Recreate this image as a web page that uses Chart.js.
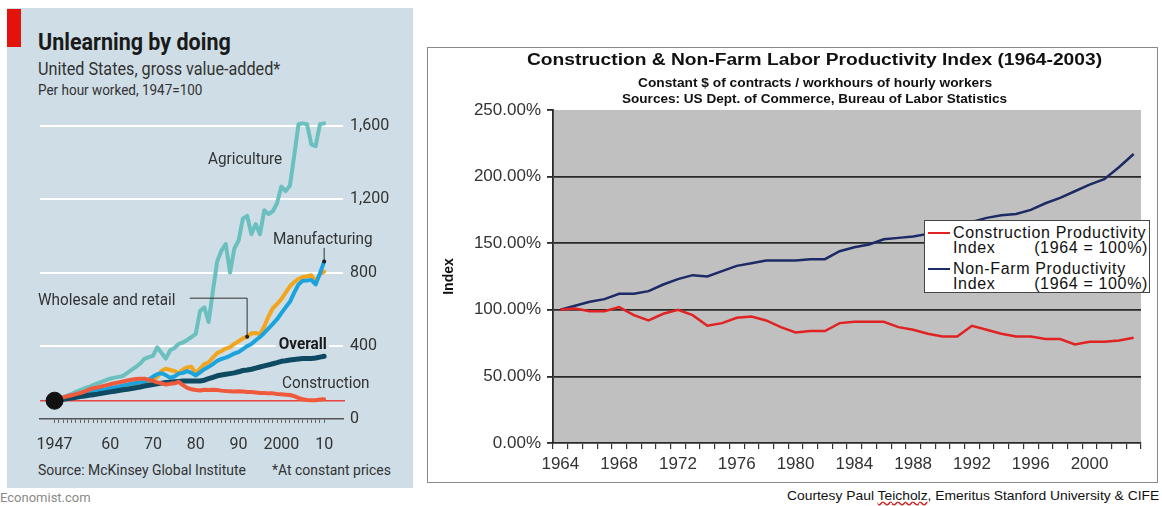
<!DOCTYPE html>
<html><head><meta charset="utf-8">
<script src="https://cdn.jsdelivr.net/npm/chart.js@4.4.1/dist/chart.umd.min.js"></script>
<style>
html,body{margin:0;padding:0;background:#fff;}
body{width:1162px;height:506px;position:relative;overflow:hidden;}
.abs{position:absolute;white-space:nowrap;line-height:1;}
.eco{font-family:Roboto,'Open Sans',sans-serif;color:#2b2b2b;}
.ar{font-family:'Liberation Sans',Arial,sans-serif;color:#111;}
#lpanel{position:absolute;left:7px;top:8px;width:406px;height:480px;background:#cedde6;}
#redbar{position:absolute;left:7px;top:9px;width:14px;height:38px;background:#e3120b;}
#lchart{position:absolute;left:8px;top:100px;}
#rbox{position:absolute;left:427px;top:47px;width:731px;height:436px;border:1px solid #8a8a8a;background:#fff;box-sizing:border-box;}
#rchart{position:absolute;left:428px;top:48px;}
#legend{position:absolute;left:924px;top:220px;width:226px;height:73px;border:1px solid #444;background:#fff;box-sizing:border-box;font-family:'Liberation Sans',Arial,sans-serif;font-size:16px;color:#111;}
.lg-row{position:absolute;left:28px;width:195px;height:15px;line-height:15px;display:flex;justify-content:space-between;letter-spacing:0.65px;}
.lg-mark{position:absolute;left:3px;width:22px;height:2px;}
.cond{transform:scaleX(0.9);transform-origin:0 0;}
.wide{transform-origin:0 0;}
</style></head><body>
<div id="lpanel"></div>
<div id="redbar"></div>
<canvas id="lchart" width="404" height="360"></canvas>
<div class="abs eco" style="left:38px;top:31px;font-size:23px;font-weight:700;color:#1a1a1a;transform:scaleX(0.935);transform-origin:0 0;">Unlearning by doing</div>
<div class="abs eco cond" style="left:38px;top:60px;font-size:18px;color:#333;">United States, gross value-added*</div>
<div class="abs eco cond" style="left:38px;top:83px;font-size:15px;color:#333;">Per hour worked, 1947=100</div>
<div class="abs eco cond" style="left:208px;top:150px;font-size:17px;color:#333;">Agriculture</div>
<div class="abs eco cond" style="left:273px;top:230px;font-size:17px;color:#333;">Manufacturing</div>
<div class="abs eco cond" style="left:38px;top:291px;font-size:17px;color:#333;">Wholesale and retail</div>
<div class="abs eco cond" style="left:276px;top:335px;font-size:17px;font-weight:700;color:#1a1a1a;background:#cedde6;padding:0 3px;">Overall</div>
<div class="abs eco cond" style="left:282px;top:374px;font-size:17px;color:#333;">Construction</div>
<div class="abs eco cond" style="left:38px;top:463px;font-size:15.5px;color:#333;">Source: McKinsey Global Institute</div>
<div class="abs eco cond" style="left:272px;top:463px;font-size:15.5px;color:#333;">*At constant prices</div>
<div class="abs eco" style="left:0px;top:491px;font-size:13px;color:#8a8a8a;">Economist.com</div>

<div id="rbox"></div>
<canvas id="rchart" width="729" height="434"></canvas>
<div class="abs ar wide" style="left:527px;top:52px;font-size:16px;font-weight:700;transform:scaleX(1.2);">Construction &amp; Non-Farm Labor Productivity Index (1964-2003)</div>
<div class="abs ar wide" style="left:638px;top:77px;font-size:12px;font-weight:700;transform:scaleX(1.145);">Constant $ of contracts / workhours of hourly workers</div>
<div class="abs ar wide" style="left:622px;top:93px;font-size:12px;font-weight:700;transform:scaleX(1.13);">Sources: US Dept. of Commerce, Bureau of Labor Statistics</div>
<div id="legend"></div>
<div class="abs ar wide" style="left:787px;top:489px;font-size:13px;color:#111;transform:scaleX(1.065);">Courtesy Paul <span style="text-decoration:underline wavy #d02020;">Teicholz</span>, Emeritus Stanford University &amp; CIFE</div>

<script>
// ---------- Left chart data (Economist) ----------
const econYears = [1947,1948,1949,1950,1951,1952,1953,1954,1955,1956,1957,1958,1959,1960,1961,1962,1963,1964,1965,1966,1967,1968,1969,1970,1971,1972,1973,1974,1975,1976,1977,1978,1979,1980,1981,1982,1983,1984,1985,1986,1987,1988,1989,1990,1991,1992,1993,1994,1995,1996,1997,1998,1999,2000,2001,2002,2003,2004,2005,2006,2007,2008,2009,2010];
const agriculture = [100,110,120,128,138,148,158,168,175,185,195,203,212,220,226,230,235,252,268,285,303,328,338,345,392,360,330,375,388,410,418,432,448,465,590,610,530,700,860,920,956,800,930,975,1095,1110,1010,1065,1010,1140,1120,1135,1180,1270,1245,1275,1440,1610,1615,1610,1500,1490,1610,1615];
const manufacturing = [100,106,110,115,120,125,130,135,142,148,153,158,163,168,172,178,183,188,193,197,200,203,215,232,245,250,240,225,232,248,252,262,252,238,255,272,285,300,318,328,335,345,358,365,382,398,410,430,448,470,495,520,545,578,610,640,690,735,755,757,760,735,795,860];
const wholesale = [100,104,108,113,118,122,127,132,138,143,148,152,158,162,167,172,177,182,188,192,196,200,208,218,230,262,275,268,262,250,270,282,285,250,275,300,310,335,360,372,385,393,410,425,440,450,468,470,462,505,560,605,628,655,690,725,748,765,775,780,785,750,790,805];
const overall = [100,104,107,112,115,119,123,126,130,133,136,140,144,148,152,156,160,163,167,171,175,180,184,188,192,196,199,201,203,205,207,208,208,207,208,212,220,228,236,240,244,248,252,258,265,268,272,278,284,290,296,302,308,315,318,322,325,328,330,331,331,333,338,343];
const construction = [100,112,118,124,130,136,142,150,160,168,172,178,184,190,195,200,205,210,214,218,220,220,215,208,200,195,188,192,195,203,185,170,162,158,156,160,158,160,158,155,153,152,150,152,150,147,148,145,142,142,140,140,137,135,133,131,125,115,108,104,102,103,106,108];
const econTickYears = [1947,1960,1970,1980,1990,2000,2010];
const econTickText = ['1947','60','70','80','90','2000','10'];
const econYTicks = [0,400,800,1200,1600];
const baseYear = 1947, baseValue = 100;
const leaderWholesaleYear = 1992, leaderManufYear = 2010;

function pts(arr){ return econYears.map((y,i)=>({x:y,y:arr[i]})); }

const ecoFont = 'Roboto, "Open Sans", sans-serif';

const econPlugin = {
  id:'econExtras',
  beforeDatasetsDraw(chart){
    const {ctx, chartArea:a, scales:{y}} = chart;
    const py = y.getPixelForValue(baseValue);
    ctx.save(); ctx.strokeStyle='#e8473f'; ctx.lineWidth=1.5;
    ctx.beginPath(); ctx.moveTo(a.left, py); ctx.lineTo(a.right+2, py); ctx.stroke(); ctx.restore();
  },
  afterDatasetsDraw(chart){
    const {ctx, scales:{x,y}} = chart;
    ctx.save(); ctx.strokeStyle='#333'; ctx.fillStyle='#222'; ctx.lineWidth=1;
    const wx = x.getPixelForValue(leaderWholesaleYear);
    const wy = y.getPixelForValue(wholesale[econYears.indexOf(leaderWholesaleYear)]);
    const hy = y.getPixelForValue(660), hx = x.getPixelForValue(1978.6);
    ctx.beginPath(); ctx.moveTo(hx,hy); ctx.lineTo(wx,hy); ctx.lineTo(wx,wy); ctx.stroke();
    ctx.beginPath(); ctx.arc(wx,wy,2,0,Math.PI*2); ctx.fill();
    const mx = x.getPixelForValue(leaderManufYear);
    const my = y.getPixelForValue(manufacturing[econYears.indexOf(leaderManufYear)]);
    const ty = y.getPixelForValue(935);
    ctx.beginPath(); ctx.moveTo(mx,ty); ctx.lineTo(mx,my); ctx.stroke();
    ctx.beginPath(); ctx.arc(mx,my,2,0,Math.PI*2); ctx.fill();
    ctx.restore();
  }
};

const lineDs = (label, arr, color, w, order) => ({label, data:pts(arr), borderColor:color, borderWidth:w, pointRadius:0, tension:0, order, borderJoinStyle:'round', borderCapStyle:'round'});

new Chart(document.getElementById('lchart'), {
  type:'line',
  data:{datasets:[
    {label:'start', data:[{x:baseYear,y:baseValue}], showLine:false, pointRadius:8.5, pointBackgroundColor:'#111', pointBorderColor:'#111', order:0},
    lineDs('Construction', construction, '#f05a3c', 4, 1),
    lineDs('Overall', overall, '#0e4a62', 5, 2),
    lineDs('Manufacturing', manufacturing, '#1ba3de', 4, 3),
    lineDs('Wholesale and retail', wholesale, '#f2a51e', 4, 4),
    lineDs('Agriculture', agriculture, '#6bc0bf', 4, 5)
  ]},
  options:{
    responsive:false, animation:false, devicePixelRatio:1,
    layout:{padding:{left:32, top:9.6, right:0, bottom:0}},
    plugins:{legend:{display:false}, tooltip:{enabled:false}},
    scales:{
      x:{type:'linear', min:1943.6, max:2014.4,
        afterBuildTicks(s){ s.ticks = econYears.map(v=>({value:v})); },
        afterFit(s){ s.height = 41; },
        grid:{drawOnChartArea:false, drawTicks:true, tickLength:4, color:'#666', lineWidth:1},
        border:{display:true, color:'#555', width:1.5},
        ticks:{autoSkip:false, maxRotation:0, padding:12, color:'#333', font:{family:ecoFont, size:16},
          callback(v){ const i = econTickYears.indexOf(v); return i>=0 ? econTickText[i] : ''; }}
      },
      y:{type:'linear', position:'right', min:0, max:1652,
        afterBuildTicks(s){ s.ticks = econYTicks.map(v=>({value:v})); },
        afterFit(s){ s.width = 69; },
        grid:{drawTicks:false, lineWidth:2, color:(c)=> c.tick && c.tick.value===0 ? 'rgba(0,0,0,0)' : '#ffffff'},
        border:{display:false},
        ticks:{padding:7, color:'#333', font:{family:ecoFont, size:16},
          callback(v){ return String(v).replace(/\B(?=(\d{3})+(?!\d))/g, ','); }}
      }
    }
  },
  plugins:[econPlugin]
});

// ---------- Right chart data ----------
const prodYears = ['1964','1965','1966','1967','1968','1969','1970','1971','1972','1973','1974','1975','1976','1977','1978','1979','1980','1981','1982','1983','1984','1985','1986','1987','1988','1989','1990','1991','1992','1993','1994','1995','1996','1997','1998','1999','2000','2001','2002','2003'];
const constructionIndex = [100,101,99,99,102,96,92,97,100,96,88,90,94,95,92,87,83,84,84,90,91,91,91,87,85,82,80,80,88,85,82,80,80,78,78,74,76,76,77,79];
const nonFarmIndex = [100,103,106,108,112,112,114,119,123,126,125,129,133,135,137,137,137,138,138,144,147,149,153,154,155,157,160,163,166,169,171,172,175,180,184,189,194,198,207,217];
const seriesNames = ['Construction Productivity', 'Non-Farm Productivity'];
const seriesNote = ['Index', '(1964 = 100%)'];
const seriesColors = ['#e02222', '#1c2a66'];
const yTickMax = 250, yTickStep = 50;

const arFont = '"Liberation Sans", Arial, sans-serif';
const plotBg = {
  id:'plotBg',
  beforeDraw(chart){
    const {ctx, chartArea:a} = chart;
    ctx.save(); ctx.fillStyle='#c0c0c0'; ctx.fillRect(a.left, a.top, a.right-a.left, a.bottom-a.top); ctx.restore();
  }
};

new Chart(document.getElementById('rchart'), {
  type:'line',
  data:{labels:prodYears, datasets:[
    {label:seriesNames[0], data:constructionIndex, borderColor:seriesColors[0], borderWidth:2.5, pointRadius:0, tension:0},
    {label:seriesNames[1], data:nonFarmIndex, borderColor:seriesColors[1], borderWidth:2.5, pointRadius:0, tension:0}
  ]},
  options:{
    responsive:false, animation:false, devicePixelRatio:1,
    layout:{padding:{left:9, top:62, right:16, bottom:0}},
    plugins:{legend:{display:false}, tooltip:{enabled:false}},
    scales:{
      x:{type:'category', offset:true,
        afterFit(s){ s.height = 39; },
        grid:{offset:true, drawOnChartArea:false, tickLength:6, color:'#333', lineWidth:1.2},
        border:{display:true, color:'#2a2a2a', width:1.8},
        ticks:{autoSkip:false, maxRotation:0, padding:5, color:'#333', font:{family:arFont, size:17},
          callback(v, i){ return i % 4 === 0 ? prodYears[i] : ''; }}
      },
      y:{min:0, max:yTickMax,
        afterFit(s){ s.width = 116; },
        title:{display:true, text:'Index', color:'#111', font:{family:arFont, size:14, weight:'bold'}, padding:4},
        grid:{tickLength:6, lineWidth:1.8, tickColor:'#2a2a2a',
          color:(c)=> (c.tick && (c.tick.value===0 || c.tick.value===yTickMax)) ? 'rgba(0,0,0,0)' : '#2a2a2a'},
        border:{display:true, color:'#2a2a2a', width:1.8},
        ticks:{stepSize:yTickStep, padding:6, color:'#333', font:{family:arFont, size:17},
          callback(v){ return Number(v).toFixed(2) + '%'; }}
      }
    }
  },
  plugins:[plotBg]
});

// HTML legend built from the series arrays
(function(){
  const lg = document.getElementById('legend');
  const rowTops = [[4,19],[40,55]];
  seriesNames.forEach((name, i) => {
    const m = document.createElement('div'); m.className='lg-mark';
    m.style.top = (rowTops[i][0]+7)+'px'; m.style.background = seriesColors[i]; lg.appendChild(m);
    const r1 = document.createElement('div'); r1.className='lg-row'; r1.style.top = rowTops[i][0]+'px';
    r1.textContent = name; lg.appendChild(r1);
    const r2 = document.createElement('div'); r2.className='lg-row'; r2.style.top = rowTops[i][1]+'px';
    const a = document.createElement('span'); a.textContent = seriesNote[0];
    const b = document.createElement('span'); b.textContent = seriesNote[1];
    r2.appendChild(a); r2.appendChild(b); lg.appendChild(r2);
  });
})();
</script>
</body></html>
